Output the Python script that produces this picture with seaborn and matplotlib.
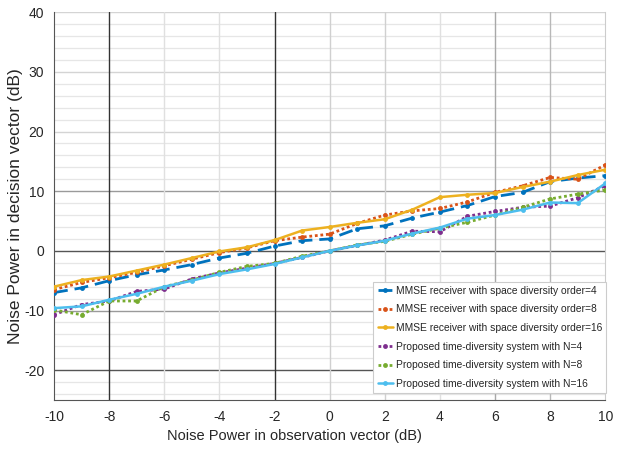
import numpy as np
import pandas as pd
import matplotlib
matplotlib.use("Agg")
import matplotlib.pyplot as plt
import seaborn as sns

# Noise power in the observation vector (dB)
snr_in = list(range(-10, 11))

# Noise power in the decision vector (dB) for each receiver
mmse_4 = [-7.0, -6.2, -5.0, -4.0, -3.2, -2.3, -1.2, -0.4, 0.8, 1.7, 2.0,
          3.7, 4.2, 5.5, 6.5, 7.6, 9.1, 9.8, 11.6, 12.2, 12.6]
mmse_8 = [-6.5, -5.3, -4.5, -3.6, -2.5, -1.4, -0.3, 0.5, 1.7, 2.3, 2.8,
          4.6, 6.0, 6.7, 7.1, 8.2, 9.8, 10.9, 12.3, 12.0, 14.4]
mmse_16 = [-6.0, -4.9, -4.3, -3.3, -2.3, -1.2, -0.1, 0.6, 1.8, 3.4, 4.0,
           4.7, 5.3, 6.9, 9.0, 9.4, 9.7, 10.7, 11.6, 12.7, 13.6]
prop_4 = [-10.7, -9.0, -8.4, -6.8, -6.4, -4.7, -3.7, -2.9, -2.1, -1.1, 0.0,
          0.9, 1.8, 3.3, 3.2, 5.8, 6.6, 7.3, 7.5, 8.9, 10.9]
prop_8 = [-9.9, -10.7, -8.4, -8.4, -6.0, -4.9, -3.6, -2.6, -2.1, -0.9, 0.0,
          1.0, 1.6, 2.8, 3.8, 4.8, 6.0, 7.3, 8.7, 9.5, 10.2]
prop_16 = [-9.6, -9.3, -8.2, -7.2, -6.0, -5.0, -3.9, -3.1, -2.2, -1.1, 0.0,
           0.9, 1.7, 2.9, 3.9, 5.4, 6.0, 6.9, 8.1, 8.0, 11.3]

labels = [
    "MMSE receiver with space diversity order=4",
    "MMSE receiver with space diversity order=8",
    "MMSE receiver with space diversity order=16",
    "Proposed time-diversity system with N=4",
    "Proposed time-diversity system with N=8",
    "Proposed time-diversity system with N=16",
]
series = [mmse_4, mmse_8, mmse_16, prop_4, prop_8, prop_16]

x_ticks = list(range(-10, 11, 2))
y_ticks = list(range(-20, 41, 10))

colors = ["#0072BD", "#D95319", "#EDB120", "#7E2F8E", "#77AC30", "#4DBEEE"]
styles = [(0, (5, 2.5)), (0, (1, 1)), "-", (0, (1, 1)), (0, (1, 1)), "-"]
widths = [2.0, 2.0, 1.8, 2.0, 2.0, 1.8]

df = pd.DataFrame({
    "x": np.tile(snr_in, len(series)),
    "y": np.concatenate(series),
    "label": np.repeat(labels, len(snr_in)),
})

sns.set_theme(style="white")
plt.rcParams["font.family"] = ["Liberation Sans", "DejaVu Sans"]

fig = plt.figure(figsize=(6.18, 4.5), dpi=100)
ax = fig.add_axes([0.0874, 0.111, 0.892, 0.862])

# grid lines (drawn first so the curves sit on top)
for yv in range(-24, 41, 2):
    if yv % 10 == 0:
        continue
    ax.axhline(yv, color="#e6e6e6", lw=0.9, zorder=0)
hcol = {-20: "#555555", -10: "#9a9a9a", 0: "#555555", 10: "#9a9a9a",
        20: "#d4d4d4", 30: "#d4d4d4", 40: "#d4d4d4"}
for yv, c in hcol.items():
    ax.axhline(yv, color=c, lw=1.0, zorder=0)
vcol = {-8: "#333333", -6: "#e0e0e0", -4: "#e0e0e0", -2: "#333333",
        0: "#d0d0d0", 2: "#d0d0d0", 4: "#e0e0e0", 6: "#a8a8a8", 8: "#b8b8b8"}
for xv, c in vcol.items():
    ax.axvline(xv, color=c, lw=1.0, zorder=0)

for lab, col, ls, lw in zip(labels, colors, styles, widths):
    sns.lineplot(data=df[df["label"] == lab], x="x", y="y", ax=ax,
                 color=col, linestyle=ls, linewidth=lw, marker="o",
                 markersize=3.5, markeredgewidth=0, label=lab, zorder=3)

ax.set_xlim(-10, 10)
ax.set_ylim(-25, 40)
ax.set_xticks(x_ticks)
ax.set_xticklabels([str(v) for v in x_ticks])
ax.set_yticks(y_ticks)
ax.set_yticklabels([str(v) for v in y_ticks])
ax.set_yticks(range(-24, 41, 2), minor=True)
ax.tick_params(axis="both", which="major", labelsize=10, colors="#262626",
               length=3, width=0.6, direction="in", pad=7)
ax.tick_params(axis="y", which="minor", length=2, width=0.5, direction="in",
               colors="#777777")
ax.set_xlabel("Noise Power in observation vector (dB)", fontsize=10.5,
              color="#262626")
ax.set_ylabel("Noise Power in decision vector (dB)", fontsize=12.5,
              color="#262626")
ax.xaxis.set_label_coords(0.437, -0.075)
ax.yaxis.set_label_coords(-0.056, 0.5)

for side in ["left", "bottom"]:
    ax.spines[side].set_color("#555555")
    ax.spines[side].set_linewidth(0.8)
ax.spines["right"].set_color("#cccccc")
ax.spines["right"].set_linewidth(0.8)
ax.spines["top"].set_visible(False)

leg = ax.legend(loc="lower right", bbox_to_anchor=(1.002, 0.018),
                fontsize=7.35, frameon=True, fancybox=False, handlelength=1.5,
                handletextpad=0.3, borderpad=0.4, labelspacing=0.85,
                borderaxespad=0.0)
leg.get_frame().set_edgecolor("#cccccc")
leg.get_frame().set_linewidth(0.8)
leg.get_frame().set_alpha(1.0)

fig.savefig("out.png", dpi=100)
